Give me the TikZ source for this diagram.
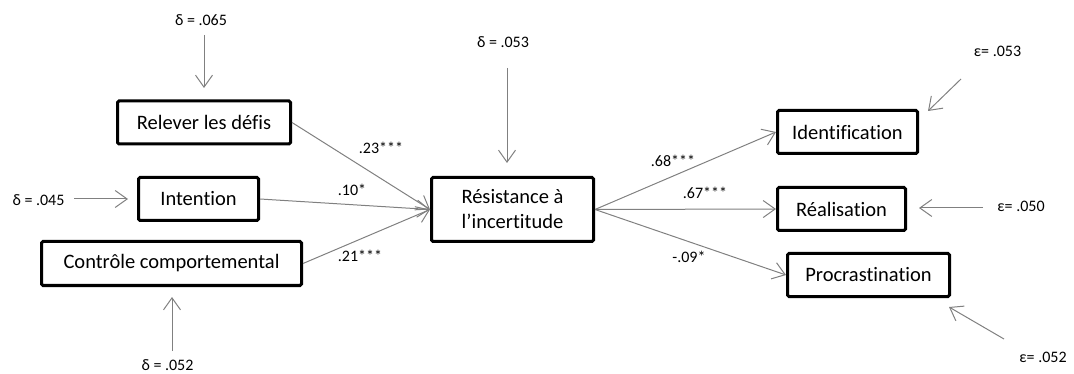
\documentclass[tikz,border=0pt]{standalone}
\usepackage{fontspec}
\setmainfont{Carlito}[Ligatures={NoCommon}]
\usetikzlibrary{arrows.meta}
\begin{document}
\begin{tikzpicture}[x=1pt,y=-1pt,
  box/.style={draw=black,line width=3pt,rounded corners=1.5pt,inner sep=0pt,
    minimum height=43pt,font=\fontsize{20.5}{23}\selectfont,fill=white},
  path/.style={draw=black!50,line width=1pt,-{Straight Barb[length=12pt,width=17pt,line width=1pt]}},
  lab/.style={font=\fontsize{16}{18}\selectfont,inner sep=0pt},
  err/.style={font=\fontsize{16}{18}\selectfont,inner sep=0pt}]
\useasboundingbox (0,0) rectangle (1074,374);
% boxes
\node[box,minimum width=173pt] (rel) at (204,122.5) {Relever les défis};
\node[box,minimum width=120pt] (int) at (198.5,199) {Intention};
\node[box,minimum width=260pt,minimum height=44pt] (ctl) at (171.5,263.5) {Contrôle comportemental};
\node[box,minimum width=162pt,minimum height=64pt,align=center,font=\fontsize{20.5}{25}\selectfont] (res) at (512.5,209.5) {Résistance à\\l’incertitude};
\node[box,minimum width=140pt] (idf) at (847.5,132) {Identification};
\node[box,minimum width=128pt] (rea) at (841.5,209) {Réalisation};
\node[box,minimum width=162pt] (pro) at (868.5,275) {Procrastination};
% structural paths
\draw[path] (rel.east) -- (res.west);
\draw[path] (int.east) -- (res.west);
\draw[path] (ctl.east) -- (res.west);
\draw[path] (res.east) -- (idf.west);
\draw[path] (res.east) -- (rea.west);
\draw[path] (res.east) -- (pro.west);
% path labels
\node[lab] (l1) at (381,148) {.23***};
\node[lab] (l2) at (352,190) {.10*};
\node[lab] (l3) at (360,256) {.21***};
\node[lab] (l4) at (673,161) {.68***};
\node[lab] (l5) at (705,193) {.67***};
\node[lab] (l6) at (689,257) {-.09*};
% error terms
\node[err] (d1) at (201,20) {δ = .065};
\coordinate (d1a) at (204,35); \coordinate (d1b) at (204,88);
\draw[path] (d1a) -- (d1b);
\node[err] (d2) at (38.5,200) {δ = .045};
\coordinate (d2a) at (74,199); \coordinate (d2b) at (128,199);
\draw[path] (d2a) -- (d2b);
\node[err] (d3) at (167.5,365) {δ = .052};
\coordinate (d3a) at (172,351); \coordinate (d3b) at (172,297);
\draw[path] (d3a) -- (d3b);
\node[err] (d4) at (503,42) {δ = .053};
\coordinate (d4a) at (507,68); \coordinate (d4b) at (507,163);
\draw[path] (d4a) -- (d4b);
\node[err] (e1) at (997.5,51) {ε= .053};
\coordinate (e1a) at (961,79); \coordinate (e1b) at (928,111);
\draw[path] (e1a) -- (e1b);
\node[err] (e2) at (1021,206) {ε= .050};
\coordinate (e2a) at (983,208); \coordinate (e2b) at (919,208);
\draw[path] (e2a) -- (e2b);
\node[err] (e3) at (1043,357) {ε= .052};
\coordinate (e3a) at (1004,339); \coordinate (e3b) at (949,307);
\draw[path] (e3a) -- (e3b);
\end{tikzpicture}
\end{document}
